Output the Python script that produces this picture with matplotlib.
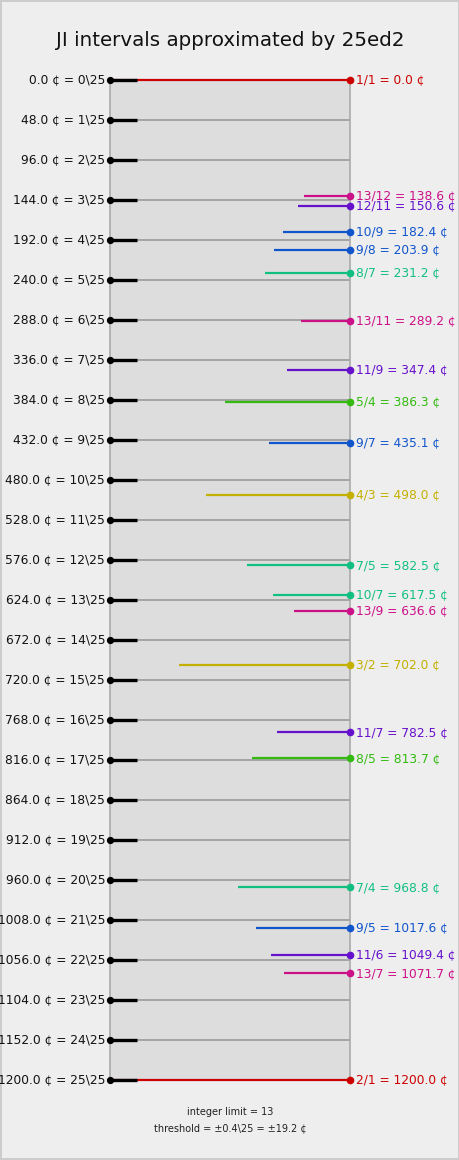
import matplotlib
matplotlib.use("Agg")
import matplotlib.pyplot as plt

edo = 25
octave_cents = 1200.0
steps = list(range(0, 26))
step_labels = [f"{k * octave_cents / edo:.1f} ¢ = {k}\\{edo}" for k in steps]

ratios = ["1/1", "13/12", "12/11", "10/9", "9/8", "8/7", "13/11", "11/9", "5/4", "9/7",
          "4/3", "7/5", "10/7", "13/9", "3/2", "11/7", "8/5", "7/4", "9/5", "11/6",
          "13/7", "2/1"]
cents = [0.0, 138.6, 150.6, 182.4, 203.9, 231.2, 289.2, 347.4, 386.3, 435.1,
         498.0, 582.5, 617.5, 636.6, 702.0, 782.5, 813.7, 968.8, 1017.6, 1049.4,
         1071.7, 1200.0]
# relative strength (fraction of axis width covered by each interval's line)
strength = [1.0, 0.192, 0.217, 0.279, 0.315, 0.354, 0.204, 0.2625, 0.521, 0.3375,
            0.602, 0.429, 0.319, 0.235, 0.7125, 0.304, 0.408, 0.467, 0.392, 0.329,
            0.277, 1.0]
limit_colors = {1: "#cc0000", 3: "#c4b000", 5: "#33bb11", 7: "#11c080",
                9: "#1155cc", 11: "#6611cc", 13: "#cc1188"}
integer_limit = 13
threshold_steps = 0.4


def odd_part(n):
    while n % 2 == 0:
        n //= 2
    return n


def odd_limit(r):
    n, d = (int(x) for x in r.split("/"))
    return max(odd_part(n), odd_part(d))


fig = plt.figure(figsize=(4.6, 11.6), dpi=100)
fig.patch.set_facecolor("#eeeeee")
fig.patch.set_edgecolor("#cccccc")
fig.patch.set_linewidth(1.5)

ax = fig.add_axes([110 / 460, 80 / 1160, 240 / 460, 1000 / 1160])
ax.set_facecolor("#dddddd")
ax.set_xlim(0, 1)
ax.set_ylim(octave_cents, 0)
for s in ax.spines.values():
    s.set_color("#aaaaaa")
    s.set_linewidth(1.2)

step_cents = [k * octave_cents / edo for k in steps]
for c in step_cents:
    ax.plot([0, 1], [c, c], color="#a0a0a0", lw=1.3, zorder=2, solid_capstyle="butt")
    ax.plot([0, 0.1125], [c, c], color="black", lw=2.4, zorder=4, clip_on=False,
            solid_capstyle="butt")
    ax.plot([0], [c], "o", color="black", ms=4.2, zorder=5, clip_on=False)

ax.set_yticks(step_cents)
ax.set_yticklabels(step_labels, fontsize=8.8, color="#111111")
ax.tick_params(axis="y", length=0, pad=3.5)
for lbl in ax.get_yticklabels():
    lbl.set_verticalalignment("center")
ax.set_xticks([])

for r, c, w in zip(ratios, cents, strength):
    col = limit_colors[odd_limit(r)]
    ax.plot([1 - w, 1], [c, c], color=col, lw=1.6, zorder=3, clip_on=False,
            solid_capstyle="butt")
    ax.plot([1], [c], "o", color=col, ms=4.5, zorder=6, clip_on=False)
    ax.annotate(f"{r} = {c:.1f} ¢", xy=(1, c), xytext=(4.3, 0), textcoords="offset points",
                va="center", ha="left", fontsize=8.8, color=col,
                annotation_clip=False)

fig.text(230 / 460, 1 - 41 / 1160, f"JI intervals approximated by {edo}ed2",
         ha="center", va="center", fontsize=14.3, color="#111111")
fig.text(230 / 460, 1 - 1112 / 1160, f"integer limit = {integer_limit}",
         ha="center", va="center", fontsize=7, color="#222222")
fig.text(230 / 460, 1 - 1128 / 1160,
         f"threshold = ±{threshold_steps}\\{edo} = ±{threshold_steps * octave_cents / edo:.1f} ¢",
         ha="center", va="center", fontsize=7, color="#222222")

fig.savefig("out.png", dpi=100, facecolor=fig.get_facecolor(), edgecolor=fig.get_edgecolor())
